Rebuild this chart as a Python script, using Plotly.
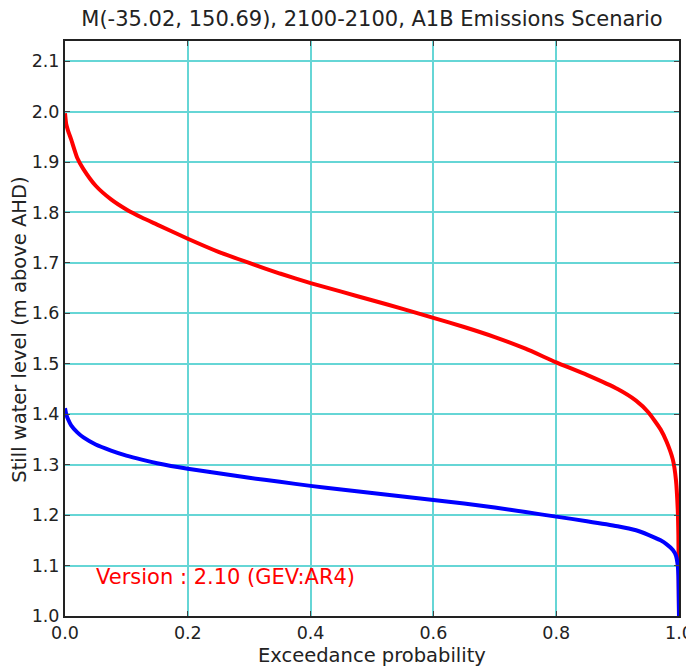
import plotly.graph_objects as go

title = "M(-35.02, 150.69), 2100-2100, A1B Emissions Scenario"
x_label = "Exceedance probability"
y_label = "Still water level (m above AHD)"
version_text = "Version : 2.10 (GEV:AR4)"

red_p = [0.0, 0.002, 0.005, 0.01, 0.02, 0.03, 0.05, 0.075, 0.1, 0.125, 0.15, 0.2, 0.25,
         0.3, 0.35, 0.4, 0.45, 0.5, 0.55, 0.6, 0.65, 0.7, 0.75, 0.8, 0.85, 0.9, 0.93,
         0.95, 0.97, 0.98, 0.99, 0.995, 0.998, 0.999, 1.0]
red_v = [1.997, 1.975, 1.962, 1.945, 1.908, 1.886, 1.853, 1.826, 1.806, 1.790, 1.776,
         1.748, 1.722, 1.700, 1.679, 1.660, 1.643, 1.626, 1.609, 1.591, 1.573, 1.553,
         1.530, 1.503, 1.478, 1.450, 1.427, 1.404, 1.370, 1.345, 1.31, 1.27, 1.21,
         1.16, 1.0]

blue_p = [0.0, 0.002, 0.005, 0.01, 0.02, 0.03, 0.05, 0.075, 0.1, 0.125, 0.15, 0.2, 0.25,
          0.3, 0.35, 0.4, 0.45, 0.5, 0.55, 0.6, 0.65, 0.7, 0.75, 0.8, 0.85, 0.9, 0.93,
          0.95, 0.97, 0.98, 0.99, 0.995, 0.998, 0.999, 1.0]
blue_v = [1.412, 1.400, 1.390, 1.378, 1.364, 1.354, 1.340, 1.328, 1.318, 1.310, 1.303,
          1.292, 1.283, 1.274, 1.266, 1.258, 1.251, 1.244, 1.237, 1.230, 1.223, 1.215,
          1.206, 1.197, 1.188, 1.178, 1.170, 1.161, 1.150, 1.142, 1.131, 1.12, 1.10,
          1.08, 1.0]

x_ticks = [0.0, 0.2, 0.4, 0.6, 0.8, 1.0]
y_ticks = [1.0, 1.1, 1.2, 1.3, 1.4, 1.5, 1.6, 1.7, 1.8, 1.9, 2.0, 2.1]

font = "DejaVu Sans"
grid_c = "#66d6d6"
txt_c = "#222222"

fig = go.Figure()
fig.add_trace(go.Scatter(x=red_p, y=red_v, mode="lines",
                         line=dict(color="#ff0000", width=4, shape="spline", smoothing=0.5),
                         showlegend=False))
fig.add_trace(go.Scatter(x=blue_p, y=blue_v, mode="lines",
                         line=dict(color="#0000ff", width=4, shape="spline", smoothing=0.5),
                         showlegend=False))

fig.add_annotation(x=0.048, y=1.077, xref="x", yref="y", text=version_text,
                   showarrow=False, xanchor="left", yanchor="middle",
                   font=dict(family=font, size=21, color="#ff0000"))

# axis titles
fig.add_annotation(x=0.5, y=-39 / 575, xref="paper", yref="paper", text=x_label,
                   showarrow=False, xanchor="center", yanchor="middle",
                   font=dict(family=font, size=19.5, color=txt_c))
fig.add_annotation(x=-45 / 614, y=0.498, xref="paper", yref="paper", text=y_label,
                   showarrow=False, xanchor="center", yanchor="middle", textangle=-90,
                   font=dict(family=font, size=19.5, color=txt_c))

fig.update_layout(
    width=686, height=660,
    margin=dict(l=57, r=15, t=33, b=52, autoexpand=False),
    paper_bgcolor="white", plot_bgcolor="white",
    font=dict(family=font, size=14, color=txt_c),
    title=dict(text=title, x=0.5, xanchor="center",
               xref="paper", y=1 - 11 / 660, yanchor="middle", yref="container",
               automargin=False,
               font=dict(family=font, size=21, color=txt_c)),
)
fig.update_xaxes(range=[0, 1], tickvals=x_ticks, ticktext=[f"{v:.1f}" for v in x_ticks],
                 showgrid=True, gridcolor=grid_c, gridwidth=1.5, automargin=False,
                 showline=True, linecolor=txt_c, linewidth=2, mirror="ticks",
                 ticks="inside", ticklen=5, tickcolor="#444444", zeroline=False,
                 tickfont=dict(size=17.5))
fig.update_yaxes(range=[1.0, 2.14], tickvals=y_ticks, ticktext=[f"{v:.1f}" for v in y_ticks],
                 showgrid=True, gridcolor=grid_c, gridwidth=1.5, automargin=False,
                 showline=True, linecolor=txt_c, linewidth=2, mirror="ticks",
                 ticks="inside", ticklen=5, tickcolor="#444444", zeroline=False,
                 tickfont=dict(size=17.5))

fig.write_html("out.html")
